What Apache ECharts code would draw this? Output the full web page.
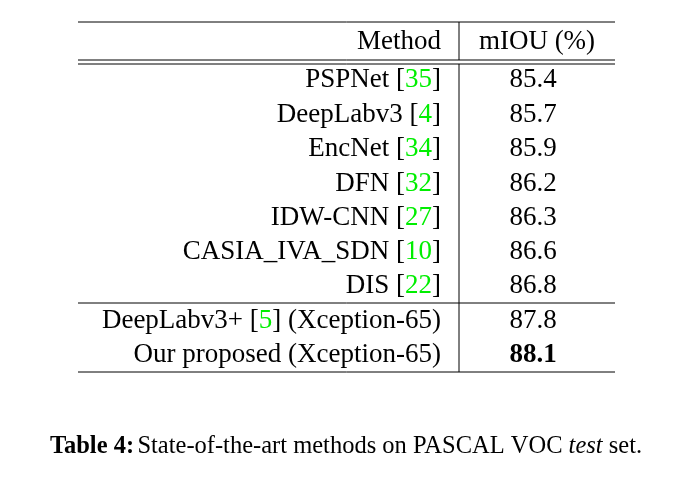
<!DOCTYPE html>
<html>
<head>
<meta charset="utf-8">
<script src="https://cdn.jsdelivr.net/npm/echarts@6/dist/echarts.min.js"></script>
<style>html,body{margin:0;background:#fff}#c{width:692px;height:483px}</style>
</head>
<body>
<div id="c"></div>
<script>
// table contents
const methods = ['PSPNet', 'DeepLabv3', 'EncNet', 'DFN', 'IDW-CNN', 'CASIA_IVA_SDN', 'DIS', 'DeepLabv3+', 'Our proposed'];
const refs = ['35', '4', '34', '32', '27', '10', '22', '5', ''];
const suffixes = ['', '', '', '', '', '', '', ' (Xception-65)', ' (Xception-65)'];
const miou = ['85.4', '85.7', '85.9', '86.2', '86.3', '86.6', '86.8', '87.8', '88.1'];
const rowY = [80, 115, 149, 184, 218, 252, 286, 321, 355];

const chart = echarts.init(document.getElementById('c'));
const font = '"Liberation Serif", "DejaVu Serif", serif';
const rich = {
  n: { fontFamily: font, fontSize: 27, fill: '#000' },
  g: { fontFamily: font, fontSize: 27, fill: '#00ee00' },
  b: { fontFamily: font, fontSize: 27, fill: '#000', fontWeight: 'bold' },
  i: { fontFamily: font, fontSize: 24.5, fill: '#000', fontStyle: 'italic' },
  bc: { fontFamily: font, fontSize: 24.5, fill: '#000', fontWeight: 'bold' },
  c: { fontFamily: font, fontSize: 24.5, fill: '#000' }
};

function txt(x, y, text, align) {
  return { type: 'text', x: x, y: y, style: { text: text, rich: rich, align: align, verticalAlign: 'middle' } };
}
function line(x1, y1, x2, y2, w) {
  return { type: 'line', shape: { x1: x1, y1: y1, x2: x2, y2: y2 }, style: { stroke: '#000', lineWidth: w || 1 } };
}

const L = 78, R = 615, V = 459;
const els = [
  line(L, 22, R, 22),
  line(L, 60, R, 60),
  line(L, 64, R, 64),
  line(L, 303, R, 303),
  line(L, 372, R, 372),
  line(V, 22, V, 60),
  line(V, 64, V, 372),
  txt(441, 42, '{n|Method}', 'right'),
  txt(537, 42, '{n|mIOU (%)}', 'center')
];
methods.forEach((m, i) => {
  let s = '{n|' + m + '}';
  if (refs[i]) s += '{n| [}{g|' + refs[i] + '}{n|]}';
  if (suffixes[i]) s += '{n|' + suffixes[i] + '}';
  els.push(txt(441, rowY[i], s, 'right'));
  const best = i === methods.length - 1;
  els.push(txt(533, rowY[i], (best ? '{b|' : '{n|') + miou[i] + '}', 'center'));
});
els.push(txt(346, 447, '{bc|Table 4:} {c|State-of-the-art methods on PASCAL VOC }{i|test}{c| set.}', 'center'));

chart.setOption({ backgroundColor: '#fff', graphic: { elements: els } });
</script>
</body>
</html>
